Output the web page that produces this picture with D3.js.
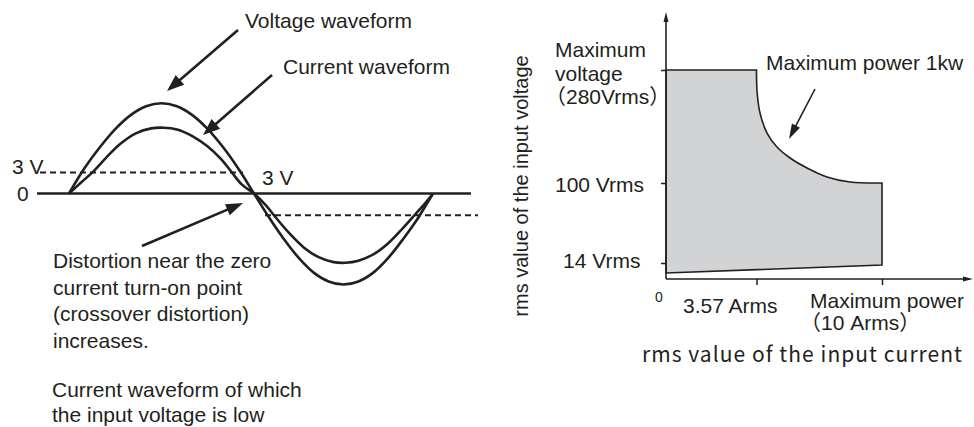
<!DOCTYPE html>
<html><head><meta charset="utf-8">
<script src="https://cdn.jsdelivr.net/npm/d3@7"></script>
<style>
html,body{margin:0;padding:0;background:#fff;}
svg{display:block;}
text{font-family:"Liberation Sans",Arial,"Noto Sans CJK JP",sans-serif;fill:#231f20;}
</style></head>
<body>
<script>
// ---------- DATA ----------
// Left diagram: waveform samples [phase (deg), value (V-scale units)]
const voltagePts = [[0,0],[15,3.6],[30,6.6],[45,9.2],[60,11.2],[75,12.46],[90,12.9],[105,12.46],[120,11.2],[135,9.2],[150,6.6],[165,3.5],[180,0],
  [195,-3.4],[210,-6.5],[225,-9.2],[240,-11.3],[255,-12.56],[270,-13.0],[285,-12.56],[300,-11.3],[315,-9.2],[330,-6.5],[345,-3.5],[360,0]];
const currentPts = [[0,0],[12,1.6],[24,3.2],[36,5.1],[50,7.1],[65,8.6],[80,9.3],[92,9.4],[105,9.15],[120,8.2],[135,6.7],[148,4.9],[158,3.1],[168,1.3],[180,0],
  [192,-1.7],[200,-3.1],[215,-5.6],[230,-7.7],[245,-9.1],[260,-9.8],[272,-9.9],[285,-9.6],[300,-8.7],[315,-7.1],[330,-4.9],[342,-3.0],[352,-1.4],[360,0]];
const thresholdLevels = [3, -3.1];   // dashed "3 V" levels

// Right diagram: operating region (current Arms, voltage Vrms)
const maxVoltage = 280;
const kneeCurrent = 3.57;
const maxCurrent = 10;
const powerCurve = [[3.57,280],[3.6,245],[3.75,211.5],[4.11,179.6],[4.62,157.3],[5.29,139.8],[6.16,123.9],[7.18,109.6],[8.36,101.6],[10,100]];
const lowerBoundary = [[10,12.25],[0,5.25]];
const yTickValues = [280, 100, 14];
const xTickValues = [3.57, 10];

// ---------- DRAW ----------
const W = 974, H = 427;
const svg = d3.select("body").append("svg").attr("width", W).attr("height", H);

function arrow(g, x1, y1, x2, y2, sw, hl, hw) {
  const dx = x2 - x1, dy = y2 - y1, L = Math.hypot(dx, dy);
  const ux = dx / L, uy = dy / L;
  const bx = x2 - ux * hl, by = y2 - uy * hl;
  g.append("line").attr("x1", x1).attr("y1", y1).attr("x2", bx + ux * 2).attr("y2", by + uy * 2)
    .attr("stroke", "#231f20").attr("stroke-width", sw);
  g.append("path").attr("d", `M${x2},${y2}L${bx - uy * hw / 2},${by + ux * hw / 2}L${bx + uy * hw / 2},${by - ux * hw / 2}Z`)
    .attr("fill", "#231f20");
}

// ----- Left diagram -----
const L = svg.append("g");
const xL = d3.scaleLinear().domain([0, 180, 360]).range([69, 254, 433]);
const yL = d3.scaleLinear().domain([-13, 13]).range([193.5 + 91, 193.5 - 91]);
const lineL = d3.line().x(d => xL(d[0])).y(d => yL(d[1])).curve(d3.curveCatmullRom.alpha(0.5));

// zero line
L.append("line").attr("x1", 37).attr("x2", 471).attr("y1", yL(0)).attr("y2", yL(0))
  .attr("stroke", "#231f20").attr("stroke-width", 2.6);
// dashed threshold lines
L.append("line").attr("x1", 40).attr("x2", 243).attr("y1", yL(thresholdLevels[0])).attr("y2", yL(thresholdLevels[0]))
  .attr("stroke", "#231f20").attr("stroke-width", 2).attr("stroke-dasharray", "6,4");
L.append("line").attr("x1", 265).attr("x2", 478).attr("y1", yL(thresholdLevels[1])).attr("y2", yL(thresholdLevels[1]))
  .attr("stroke", "#231f20").attr("stroke-width", 2).attr("stroke-dasharray", "6,4");

L.append("path").attr("d", lineL(voltagePts)).attr("fill", "none").attr("stroke", "#231f20").attr("stroke-width", 2.6);
L.append("path").attr("d", lineL(currentPts)).attr("fill", "none").attr("stroke", "#231f20").attr("stroke-width", 2.6);

// arrows
arrow(L, 238, 30, 167, 91, 2.6, 17, 13);
arrow(L, 272, 75, 203, 135, 2.6, 17, 13);
arrow(L, 142, 246, 243, 203, 2.6, 17, 12);

const fsL = 21;
function txt(g, x, y, s, fs, anchor) {
  return g.append("text").attr("x", x).attr("y", y).attr("font-size", fs).attr("text-anchor", anchor || "start").text(s);
}
txt(L, 245, 28, "Voltage waveform", fsL);
txt(L, 283, 74, "Current waveform", fsL);
txt(L, 12, 174, "3 V", fsL);
txt(L, 17, 201, "0", fsL);
txt(L, 262, 185, "3 V", fsL);
["Distortion near the zero", "current turn-on point", "(crossover distortion)", "increases."].forEach((s, i) => {
  txt(L, 53, 268 + i * 26.7, s, fsL);
});
txt(L, 52, 397, "Current waveform of which", fsL);
txt(L, 52, 422, "the input voltage is low", fsL);

// ----- Right diagram -----
const R = svg.append("g");
const xR = d3.scaleLinear().domain([0, kneeCurrent, maxCurrent]).range([666, 756.5, 882]);
const yR = d3.scaleLinear().domain([0, 14, 100, maxVoltage]).range([279, 263, 183, 70]);

const curveStr = d3.line().x(d => xR(d[0])).y(d => yR(d[1])).curve(d3.curveCatmullRom.alpha(0.5))(powerCurve);
R.append("path")
  .attr("d", `M${xR(0)},${yR(maxVoltage)}L${curveStr.slice(1)}L${xR(lowerBoundary[0][0])},${yR(lowerBoundary[0][1])}L${xR(lowerBoundary[1][0])},${yR(lowerBoundary[1][1])}Z`)
  .attr("fill", "#d2d3d5").attr("stroke", "#231f20").attr("stroke-width", 1.6).attr("stroke-linejoin", "miter");

// axes
const yAxis = d3.axisLeft(yR).tickValues(yTickValues).tickSize(5).tickFormat("");
const yAxG = R.append("g").attr("transform", `translate(${xR(0)},0)`).call(yAxis);
yAxG.select(".domain").remove();
yAxG.selectAll(".tick line").attr("stroke", "#231f20").attr("stroke-width", 1.5);
const xAxis = d3.axisBottom(xR).tickValues(xTickValues).tickSize(6).tickFormat("");
const xAxG = R.append("g").attr("transform", `translate(0,${yR(0)})`).call(xAxis);
xAxG.select(".domain").remove();
xAxG.selectAll(".tick line").attr("stroke", "#231f20").attr("stroke-width", 1.5);

R.append("line").attr("x1", xR(0)).attr("x2", xR(0)).attr("y1", yR(0)).attr("y2", 18)
  .attr("stroke", "#231f20").attr("stroke-width", 1.6);
R.append("path").attr("d", `M${xR(0)},12L${xR(0) - 2.5},22L${xR(0) + 2.5},22Z`).attr("fill", "#231f20");
R.append("line").attr("x1", xR(0)).attr("x2", 966).attr("y1", yR(0)).attr("y2", yR(0))
  .attr("stroke", "#231f20").attr("stroke-width", 1.6);
R.append("path").attr("d", `M973,${yR(0)}L963,${yR(0) - 2.5}L963,${yR(0) + 2.5}Z`).attr("fill", "#231f20");

// power arrow
arrow(R, 815, 89, 789, 139, 1.6, 15, 9);

const fsR = 21;
txt(R, 555, 57, "Maximum", fsR);
txt(R, 555, 80.5, "voltage", fsR);
txt(R, 545, 104, "（280Vrms）", fsR);
txt(R, 766, 70, "Maximum power 1kw", fsR);
txt(R, 555, 192, "100 Vrms", fsR);
txt(R, 563, 268, "14 Vrms", fsR);
txt(R, 655, 302, "0", 14);
txt(R, 683, 313, "3.57 Arms", fsR);
txt(R, 810, 308, "Maximum power", fsR);
txt(R, 800, 330, "（10 Arms）", fsR);
R.append("text").attr("x", 642).attr("y", 362).attr("font-size", 21)
  .attr("textLength", 320).attr("lengthAdjust", "spacing")
  .style("font-family", "'Noto Sans CJK JP','Noto Sans',sans-serif")
  .text("rms value of the input current");
R.append("text").attr("transform", "translate(528,186) rotate(-90)").attr("text-anchor", "middle")
  .attr("font-size", 20).text("rms value of the input voltage");
</script>
</body></html>
